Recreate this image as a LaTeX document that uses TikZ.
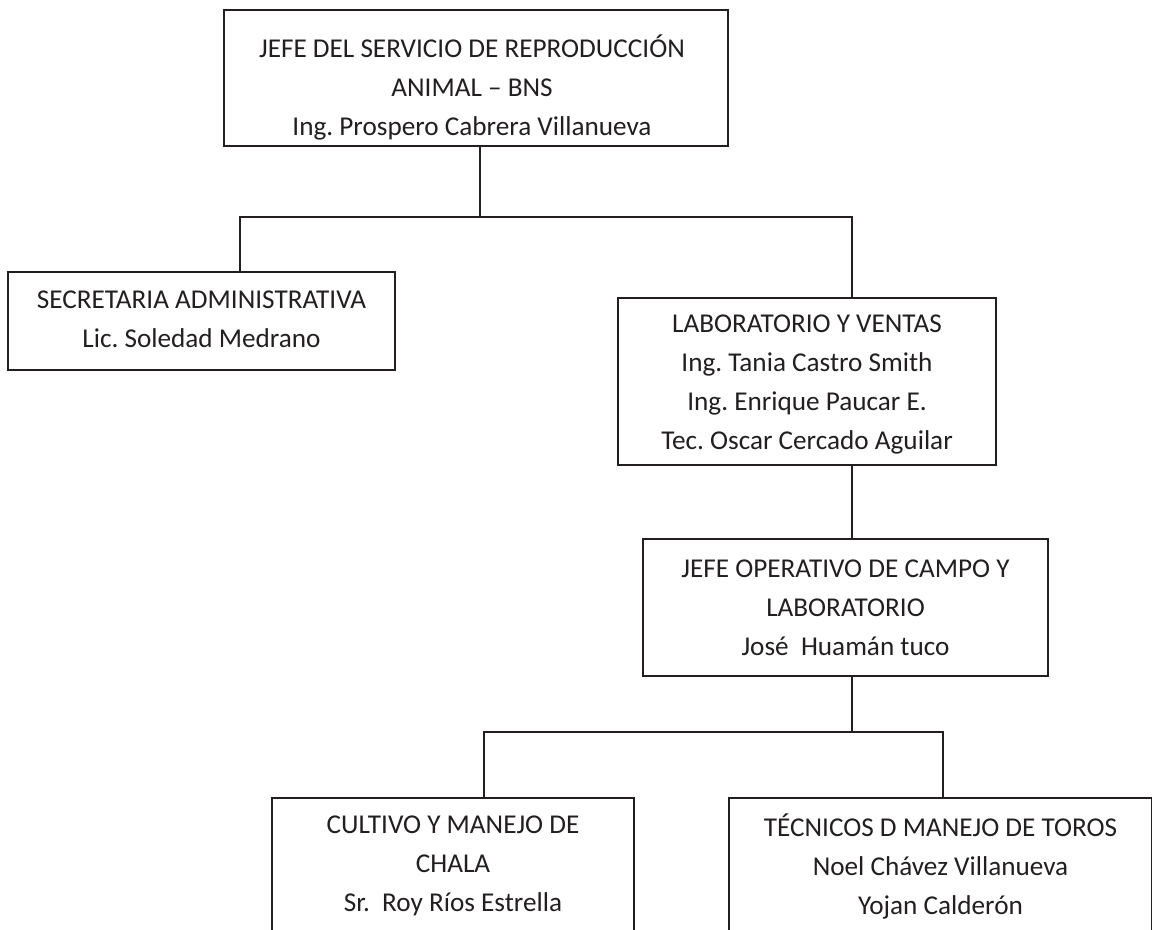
\documentclass[tikz,border=0pt]{standalone}
\usepackage{fontspec}
\setmainfont{Carlito}
\frenchspacing
\definecolor{ink}{HTML}{231F20}
\begin{document}
\begin{tikzpicture}[x=0.5pt,y=-0.5pt,
  box/.style={draw=ink,line width=0.75pt,rectangle,inner sep=0pt},
  txt/.style={text=ink,align=center,inner sep=0pt,font=\fontsize{13.6}{19.5}\selectfont},
  link/.style={draw=ink,line width=0.75pt}]
\useasboundingbox (0,0) rectangle (1152,930);
\clip (0,0) rectangle (1152,930);
\fill[white] (0,0) rectangle (1152,930);
% boxes
\node[box,minimum width=252pt,minimum height=68pt] (top) at (476,78) {};
\node[box,minimum width=193.5pt,minimum height=49pt] (sec) at (201.5,321) {};
\node[box,minimum width=189pt,minimum height=83.5pt] (lab) at (807,381.5) {};
\node[box,minimum width=202.5pt,minimum height=68.5pt] (ope) at (845.5,607.5) {};
\node[box,minimum width=181pt,minimum height=120pt] (cul) at (453,918) {};
\node[box,minimum width=211.5pt,minimum height=120pt] (tec) at (940.5,918) {};
% texts
\node[txt] (ttop) at (472,87) {JEFE DEL SERVICIO DE REPRODUCCIÓN\\ANIMAL – BNS\\Ing. Prospero Cabrera Villanueva};
\node[txt] (tsec) at (201.5,319) {SECRETARIA ADMINISTRATIVA\\Lic. Soledad Medrano};
\node[txt] (tlab) at (807,385) {LABORATORIO Y VENTAS\\Ing. Tania Castro Smith\\Ing. Enrique Paucar E.\\Tec. Oscar Cercado Aguilar};
\node[txt] (tope) at (845.5,608) {JEFE OPERATIVO DE CAMPO Y\\LABORATORIO\\José~ Huamán tuco};
\node[txt] (tcul) at (453,866) {CULTIVO Y MANEJO DE\\CHALA\\Sr.~ Roy Ríos Estrella};
\node[txt] (ttec) at (940.5,866) {TÉCNICOS D MANEJO DE TOROS\\Noel Chávez Villanueva\\Yojan Calderón};
% junction coordinates
\coordinate (j1) at (480,217);
\coordinate (aL) at (240,217);
\coordinate (aR) at (852,217);
\coordinate (j2) at (852,732);
\coordinate (bL) at (484,732);
\coordinate (bR) at (943,732);
% connectors
\draw[link] (j1 |- top.south) -- (j1);
\draw[link] (aL |- sec.north) -- (aL) -- (aR) -- (aR |- lab.north);
\draw[link] (aR |- lab.south) -- (aR |- ope.north);
\draw[link] (j2 |- ope.south) -- (j2);
\draw[link] (bL |- cul.north) -- (bL) -- (bR) -- (bR |- tec.north);
\end{tikzpicture}
\end{document}
